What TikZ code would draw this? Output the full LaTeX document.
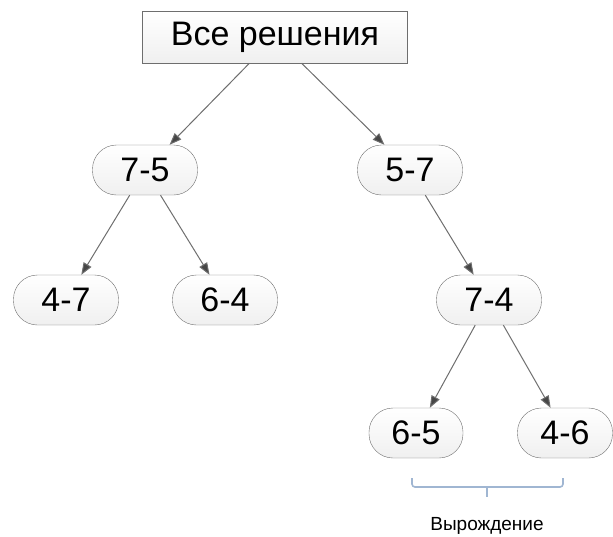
\documentclass[tikz,border=0pt]{standalone}
\usepackage{fontspec}
\setmainfont{Liberation Sans}
\usepackage{xcolor}
\usetikzlibrary{arrows.meta}

\definecolor{edgegray}{RGB}{110,110,110}
\definecolor{tipgray}{RGB}{70,70,70}
\definecolor{bracecol}{RGB}{160,182,210}

\begin{document}
\begin{tikzpicture}[x=1pt, y=-1pt,
      root/.style={draw=edgegray, rectangle, minimum width=265pt, minimum height=52pt,
        top color=white, bottom color=gray!12, font=\fontsize{34}{38}\selectfont},
      pair/.style={draw=edgegray, rectangle, rounded corners=24pt, minimum width=105pt,
        minimum height=50pt, top color=white, bottom color=gray!12, font=\fontsize{34}{38}\selectfont},
      link/.style={draw=edgegray, line width=1pt, -{Triangle[length=12pt, width=9pt, fill=tipgray]}}]
    \useasboundingbox (0,0) rectangle (613,536);

    \node[root] (all) at (275,37) {Все решения};
    \node[pair] (p75) at (145,170) {7-5};
    \node[pair] (p57) at (410,170) {5-7};
    \node[pair] (p47) at (66,300) {4-7};
    \node[pair] (p64) at (225,300) {6-4};
    \node[pair] (p74) at (489,300) {7-4};
    \node[pair, minimum width=94pt] (p65) at (416,433) {6-5};
    \node[pair, minimum width=95pt] (p46) at (565,433) {4-6};

    \draw[link] (all) -- (p75);
    \draw[link] (all) -- (p57);
    \draw[link] (p75) -- (p47);
    \draw[link] (p75) -- (p64);
    \draw[link] (p57) -- (p74);
    \draw[link] (p74) -- (p65);
    \draw[link] (p74) -- (p46);

    % brace under the last two leaves
    \draw[bracecol, line width=1.6pt, rounded corners=3pt]
      (412,478) -- (412,487) -- (563,487) -- (563,478);
    \draw[bracecol, line width=1.6pt] (487,487) -- (487,497);
    \node[font=\fontsize{19}{22}\selectfont] (degen) at (487,526) {Вырождение};
  \end{tikzpicture}
\end{document}
